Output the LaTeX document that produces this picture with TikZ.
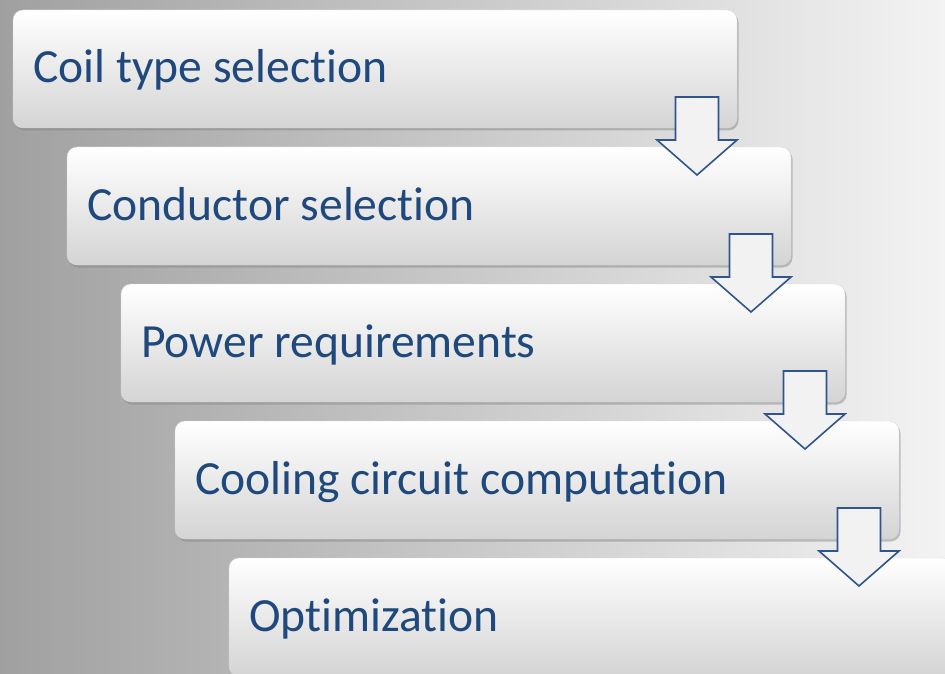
\documentclass[tikz,border=0pt]{standalone}
\usepackage{fontspec}
\setmainfont{Carlito}[RawFeature={-liga}]
\usetikzlibrary{shadows,calc}
\definecolor{txt}{RGB}{31,73,125}
\definecolor{arr}{RGB}{47,85,140}
\definecolor{arrF}{RGB}{242,242,242}
\definecolor{bgL}{RGB}{160,160,160}
\definecolor{bgM}{RGB}{208,208,208}
\definecolor{bgR}{RGB}{243,243,243}
\definecolor{boxB}{RGB}{212,212,212}
\tikzset{
  stepbox/.style={rounded corners=10pt, minimum width=724pt, minimum height=118pt,
    anchor=north west, inner sep=0pt, outer sep=0pt, top color=white, middle color=white, bottom color=boxB,
    draw=gray!30, line width=0.4pt,
    drop shadow={shadow xshift=1.5pt, shadow yshift=-2.5pt, opacity=0.45}},
  steplabel/.style={anchor=base west, text=txt, font=\fontsize{47.6}{56}\selectfont, inner sep=0pt},
  flow/.style={draw=arr, fill=arrF, line width=1.6pt, line join=miter},
  pics/dnarrow/.style={code={
    \draw[flow] (-21.5,-31) -- (21.5,-31) -- (21.5,12) -- (40,12) -- (0,47)
      -- (-40,12) -- (-21.5,12) -- cycle;}}
}
\begin{document}
\begin{tikzpicture}[x=1pt,y=-1pt]
\useasboundingbox (0,0) rectangle (945,674);
\shade[left color=bgL, middle color=bgM, right color=bgR] (0,0) rectangle (945,674);
\node[stepbox] (b1) at (13,10) {};
\node[stepbox] (b2) at (67,147) {};
\node[stepbox] (b3) at (121,284) {};
\node[stepbox] (b4) at (175,421) {};
\node[stepbox] (b5) at (229,558) {};
\node[steplabel] (t1) at ($(b1.north west)+(20,73)$) {Coil type selection};
\node[steplabel] (t2) at ($(b2.north west)+(20,73)$) {Conductor selection};
\node[steplabel] (t3) at ($(b3.north west)+(20,73)$) {Power requirements};
\node[steplabel] (t4) at ($(b4.north west)+(20,73)$) {Cooling circuit computation};
\node[steplabel] (t5) at ($(b5.north west)+(20,73)$) {Optimization};
\pic at ($(b1.south east)+(-40,0)$) {dnarrow};
\pic at ($(b2.south east)+(-40,0)$) {dnarrow};
\pic at ($(b3.south east)+(-40,0)$) {dnarrow};
\pic at ($(b4.south east)+(-40,0)$) {dnarrow};
\end{tikzpicture}
\end{document}
